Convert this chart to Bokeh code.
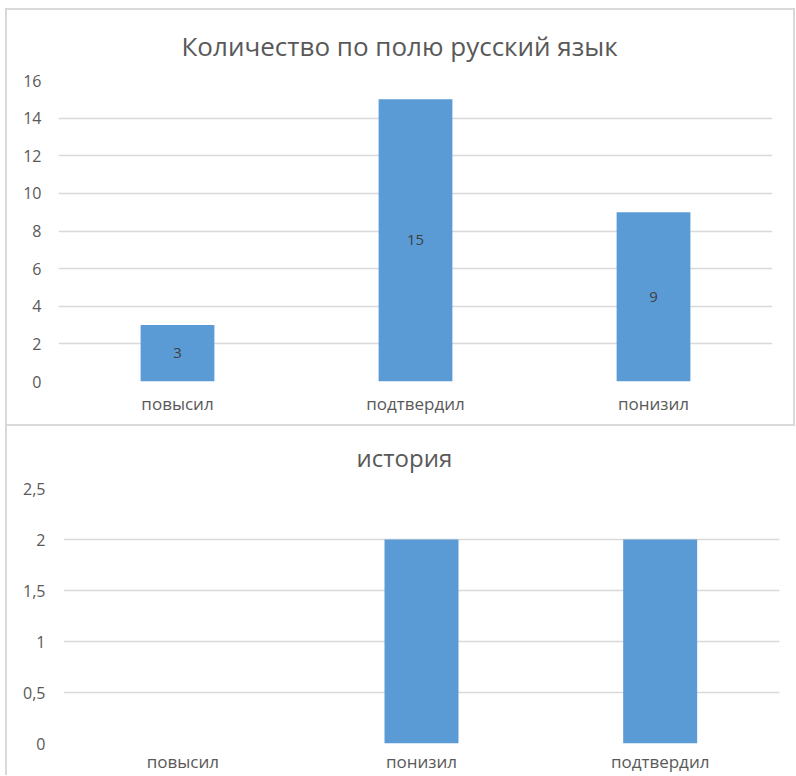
from bokeh.plotting import figure
from bokeh.models import ColumnDataSource, Range1d, FixedTicker, CustomJSTickFormatter, Spacer, Div
from bokeh.layouts import column, row
from bokeh.embed import file_html
from bokeh.resources import INLINE
from bokeh.core.properties import value

# ---- data ----
rus_title = "Количество по полю русский язык"
rus_categories = ["повысил", "подтвердил", "понизил"]
rus_values = [3, 15, 9]
rus_ticks = [0, 2, 4, 6, 8, 10, 12, 14, 16]

hist_title = "история"
hist_categories = ["повысил", "понизил", "подтвердил"]
hist_values = [0, 2, 2]
hist_ticks = [0, 0.5, 1, 1.5, 2, 2.5]

FONT = "Open Sans"
BAR = "#5b9bd5"
GRID = "#d9d9d9"
TXT = "#595959"


def style(p, ticks, ysize, xsize, lab_standoff_y, lab_standoff_x):
    p.outline_line_color = None
    p.xgrid.grid_line_color = None
    p.ygrid.grid_line_color = GRID
    p.ygrid.grid_line_width = 1.5
    p.yaxis.ticker = FixedTicker(ticks=ticks)
    for ax in (p.xaxis[0], p.yaxis[0]):
        ax.axis_line_color = None
        ax.major_tick_line_color = None
        ax.minor_tick_line_color = None
        ax.major_tick_out = 0
        ax.major_tick_in = 0
        ax.minor_tick_out = 0
        ax.major_label_text_font = FONT
        ax.major_label_text_color = TXT
    p.yaxis.major_label_text_font_size = ysize
    p.xaxis.major_label_text_font_size = xsize
    p.yaxis.major_label_standoff = lab_standoff_y
    p.xaxis.major_label_standoff = lab_standoff_x
    p.title.text_font = FONT
    p.title.text_color = TXT
    p.title.text_font_style = "normal"
    p.title.align = "left"
    p.title.vertical_align = "top"


def rule(w, h):
    return Div(width=w, height=h, margin=0, styles={"background-color": GRID})


# ---- top chart ----
src1 = ColumnDataSource(dict(cat=rus_categories, val=rus_values,
                             mid=[v / 2 for v in rus_values],
                             lab=[str(v) for v in rus_values]))
p1 = figure(x_range=rus_categories, y_range=Range1d(0, max(rus_ticks)),
            width=786, height=414, output_backend="svg", toolbar_location=None,
            title=rus_title, min_border_left=51, min_border_right=21,
            min_border_top=70, min_border_bottom=43)
p1.vbar(x="cat", top="val", width=0.31, source=src1, color=BAR, line_color=None)
p1.text(x="cat", y="mid", text="lab", source=src1, text_align="center",
        text_baseline="middle", text_font=value(FONT), text_font_size="15px",
        text_color="#404040")
style(p1, rus_ticks, "16px", "17px", 17, 10)
p1.title.text_font_size = "26px"
p1.title.offset = 123
p1.title.standoff = 29
p1.title.text_line_height = 0.9

# ---- bottom chart ----
src2 = ColumnDataSource(dict(cat=hist_categories, val=hist_values))
p2 = figure(x_range=hist_categories, y_range=Range1d(0, max(hist_ticks)),
            width=788, height=349, output_backend="svg", toolbar_location=None,
            title=hist_title, min_border_left=56, min_border_right=16,
            min_border_top=62, min_border_bottom=31)
p2.vbar(x="cat", top="val", width=0.31, source=src2, color=BAR, line_color=None)
style(p2, hist_ticks, "16px", "17px", 18, 6)
p2.yaxis.formatter = CustomJSTickFormatter(code="return tick.toString().replace('.', ',');")
p2.title.text_font_size = "24px"
p2.title.offset = 293
p2.title.standoff = 26
p2.title.text_line_height = 0.9

layout = column(
    Spacer(height=8, margin=0),
    row(Spacer(width=5, margin=0), rule(790, 2), spacing=0),
    row(Spacer(width=5, margin=0), rule(2, 414), p1, rule(2, 414), spacing=0),
    row(Spacer(width=5, margin=0), rule(790, 2), spacing=0),
    row(Spacer(width=5, margin=0), rule(2, 349), p2, spacing=0),
    spacing=0,
)
open("out.html", "w").write(file_html(layout, INLINE))
